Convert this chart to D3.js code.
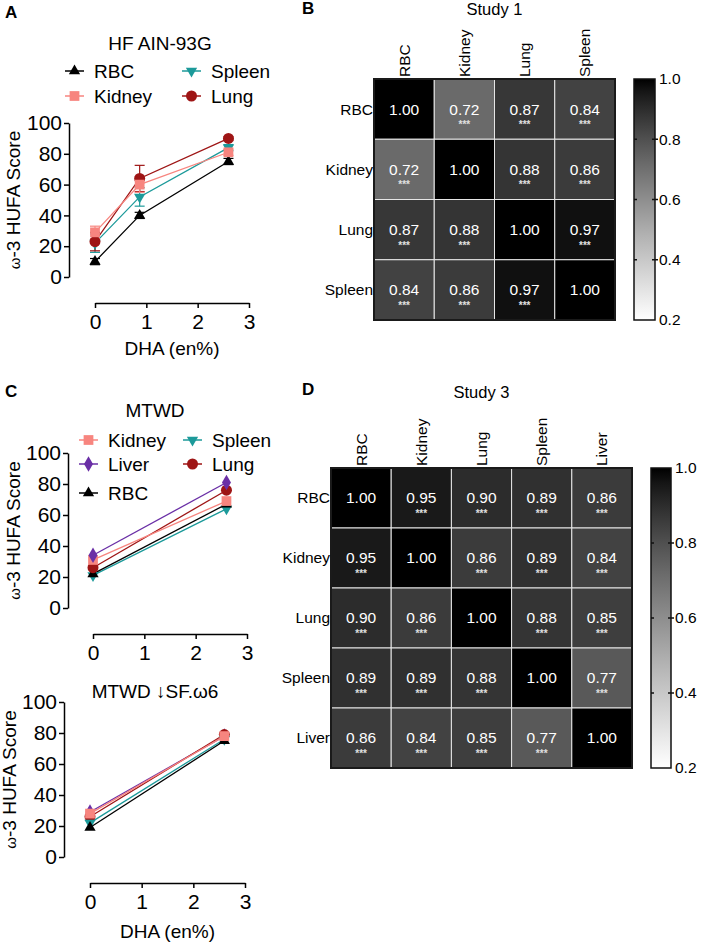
<!DOCTYPE html>
<html><head><meta charset="utf-8">
<script src="https://cdn.jsdelivr.net/npm/d3@7"></script>
<style>
body{margin:0;background:#fff;}
svg{display:block;font-family:"Liberation Sans",Arial,Helvetica,sans-serif;}
</style></head>
<body><svg id="c" width="701" height="944"></svg>
<script>
// ---------- DATA ----------
const xTicks = [0, 1, 2, 3];
const yTicks = [0, 20, 40, 60, 80, 100];

// Panel A (HF AIN-93G)
const doseA = [0, 0.87, 2.6];
const aRBC = [10, 40, 75];
const aKidney = [29, 60, 81];
const aSpleen = [22, 52, 84];
const aLung = [23, 64, 90];
const aRBCerr = [2, 2, 2];
const aKidneyErr = [4, 5, 2];
const aSpleenErr = [6, 6, 2];
const aLungErr = [6, 8.5, 1];

// Panel C top (MTWD)
const doseC = [0, 2.6];
const cKidney = [31, 69];
const cLiver = [34, 81];
const cRBC = [22, 67];
const cSpleen = [21, 64];
const cLung = [26, 76];

// Panel C bottom (MTWD lowSF.w6)
const c2Kidney = [28, 78];
const c2Liver = [29, 78];
const c2Lung = [26, 79];
const c2Spleen = [22, 76];
const c2RBC = [19, 75];

// Heatmaps
const study1Labels = ["RBC", "Kidney", "Lung", "Spleen"];
const study1 = [
  [1.00, 0.72, 0.87, 0.84],
  [0.72, 1.00, 0.88, 0.86],
  [0.87, 0.88, 1.00, 0.97],
  [0.84, 0.86, 0.97, 1.00]
];
const study3Labels = ["RBC", "Kidney", "Lung", "Spleen", "Liver"];
const study3 = [
  [1.00, 0.95, 0.90, 0.89, 0.86],
  [0.95, 1.00, 0.86, 0.89, 0.84],
  [0.90, 0.86, 1.00, 0.88, 0.85],
  [0.89, 0.89, 0.88, 1.00, 0.77],
  [0.86, 0.84, 0.85, 0.77, 1.00]
];
const colorbarTicks = [0.2, 0.4, 0.6, 0.8, 1.0];

// ---------- STYLES ----------
const col = {RBC:"#000000", Kidney:"#f7857f", Spleen:"#1c9a9a", Lung:"#9e1515", Liver:"#6a2fa6"};
const sym = {RBC:d3.symbolTriangle, Kidney:d3.symbolSquare, Spleen:d3.symbolTriangle, Lung:d3.symbolCircle, Liver:d3.symbolDiamond};
const symSize = {RBC:55, Kidney:95, Spleen:55, Lung:95, Liver:70};
const symRot = {RBC:0, Kidney:0, Spleen:180, Lung:0, Liver:0};

const svg = d3.select("#c");

function marker(g, name, x, y){
  g.append("path").attr("d", d3.symbol().type(sym[name]).size(symSize[name])())
   .attr("transform", `translate(${x},${y}) rotate(${symRot[name]})`)
   .attr("fill", col[name]);
}

function panelLetter(t, x, y){
  svg.append("text").attr("x", x).attr("y", y).attr("font-size", 17).attr("font-weight", "bold").text(t);
}

function yLabel(cx, cy){
  const t = svg.append("text").attr("transform", `translate(${cx},${cy}) rotate(-90)`)
    .attr("text-anchor", "middle").attr("font-size", 19);
  t.append("tspan").attr("font-size", 15).text("ω");
  t.append("tspan").text("-3 HUFA Score");
}

function linePanel(opt){
  const x = d3.scaleLinear().domain([0, 3]).range(opt.xr);
  const y = d3.scaleLinear().domain([0, 100]).range(opt.yr);
  const yAx = svg.append("g").attr("transform", `translate(${opt.yAxisX},0)`)
    .call(d3.axisLeft(y).tickValues(yTicks).tickFormat(d3.format("d")).tickSize(5).tickPadding(2).tickSizeOuter(0));
  const xAx = svg.append("g").attr("transform", `translate(0,${opt.xAxisY})`)
    .call(d3.axisBottom(x).tickValues(xTicks).tickFormat(d3.format("d")).tickSize(5).tickPadding(6).tickSizeOuter(0));
  [yAx, xAx].forEach(a => {
    a.selectAll("path,line").attr("stroke", "#000").attr("stroke-width", 1.5);
    a.selectAll("text").attr("font-size", 21).attr("font-family", "Liberation Sans, Arial, sans-serif").attr("fill", "#000");
  });
  const g = svg.append("g");
  opt.series.forEach(s => {
    const pts = s.vals.map((v, i) => [x(opt.dose[i]), y(v)]);
    g.append("path").attr("d", d3.line()(pts)).attr("fill", "none")
      .attr("stroke", col[s.name]).attr("stroke-width", 1.3);
    if (s.err) {
      s.vals.forEach((v, i) => {
        const xx = x(opt.dose[i]);
        const y1 = y(v + s.err[i]), y0 = y(v - s.err[i]);
        g.append("line").attr("x1", xx).attr("x2", xx).attr("y1", y1).attr("y2", y0).attr("stroke", col[s.name]).attr("stroke-width", 1.2);
        [y1, y0].forEach(yy => g.append("line").attr("x1", xx - 5).attr("x2", xx + 5).attr("y1", yy).attr("y2", yy).attr("stroke", col[s.name]).attr("stroke-width", 1.2));
      });
    }
  });
  opt.series.forEach(s => {
    s.vals.forEach((v, i) => marker(g, s.name, x(opt.dose[i]), y(v)));
  });
  if (opt.xTitleY) {
    svg.append("text").attr("x", (opt.xr[0] + opt.xr[1]) / 2).attr("y", opt.xTitleY)
      .attr("text-anchor", "middle").attr("font-size", 19).text("DHA (en%)");
  }
  yLabel(opt.yLabelX, (opt.yr[0] + opt.yr[1]) / 2);
  svg.append("text").attr("x", opt.titleX).attr("y", opt.titleY).attr("text-anchor", "middle")
    .attr("font-size", 19).text(opt.title);
  (opt.legend || []).forEach(L => {
    const lg = svg.append("g");
    lg.append("line").attr("x1", L.x).attr("x2", L.x + 19).attr("y1", L.y).attr("y2", L.y)
      .attr("stroke", col[L.name]).attr("stroke-width", 1.5);
    marker(lg, L.name, L.x + 9.5, L.y);
    lg.append("text").attr("x", L.x + 29).attr("y", L.y + 7).attr("font-size", 19).text(L.name);
  });
}

// Panel A
panelLetter("A", 5, 18);
linePanel({
  xr: [95, 249], yr: [277, 123], yAxisX: 69, xAxisY: 303, xTitleY: 355, yLabelX: 20,
  dose: doseA, title: "HF AIN-93G", titleX: 160, titleY: 50,
  series: [
    {name: "RBC", vals: aRBC, err: aRBCerr},
    {name: "Spleen", vals: aSpleen, err: aSpleenErr},
    {name: "Lung", vals: aLung, err: aLungErr},
    {name: "Kidney", vals: aKidney, err: aKidneyErr}
  ],
  legend: [
    {name: "RBC", x: 65, y: 71}, {name: "Kidney", x: 65, y: 96},
    {name: "Spleen", x: 182, y: 71}, {name: "Lung", x: 182, y: 96}
  ]
});

// Panel C top
panelLetter("C", 5, 397);
linePanel({
  xr: [93, 247], yr: [608, 453], yAxisX: 68, xAxisY: 634, xTitleY: null, yLabelX: 20,
  dose: doseC, title: "MTWD", titleX: 155, titleY: 417,
  series: [
    {name: "Spleen", vals: cSpleen}, {name: "RBC", vals: cRBC},
    {name: "Lung", vals: cLung}, {name: "Kidney", vals: cKidney}, {name: "Liver", vals: cLiver}
  ],
  legend: [
    {name: "Kidney", x: 79, y: 440}, {name: "Liver", x: 79, y: 464}, {name: "RBC", x: 79, y: 493},
    {name: "Spleen", x: 183, y: 440}, {name: "Lung", x: 183, y: 464}
  ]
});

// Panel C bottom
linePanel({
  xr: [90, 245], yr: [857, 702], yAxisX: 64, xAxisY: 883, xTitleY: 938, yLabelX: 16,
  dose: doseC, title: "MTWD ↓SF.ω6", titleX: 155, titleY: 698,
  series: [
    {name: "Liver", vals: c2Liver}, {name: "Lung", vals: c2Lung},
    {name: "Spleen", vals: c2Spleen}, {name: "RBC", vals: c2RBC}, {name: "Kidney", vals: c2Kidney}
  ]
});

// ---------- HEATMAPS ----------
const shadeT = d3.scaleLinear().domain([1.0, 0.2]).range([0, 1]).clamp(true);
function shade(v){ const g = Math.round(255 * Math.pow(shadeT(v), 0.84)); return `rgb(${g},${g},${g})`; }

let gradId = 0;
function heatmap(opt){
  const bx = d3.scaleBand().domain(opt.labels).range([opt.x0, opt.x1]);
  const by = d3.scaleBand().domain(opt.labels).range([opt.y0, opt.y1]);
  const g = svg.append("g");
  opt.data.forEach((row, i) => row.forEach((v, j) => {
    const cx = bx(opt.labels[j]), cy = by(opt.labels[i]);
    g.append("rect").attr("x", cx).attr("y", cy).attr("width", bx.bandwidth()).attr("height", by.bandwidth())
      .attr("fill", shade(v)).attr("stroke", "#e6e6e6").attr("stroke-width", 1);
    const mx = cx + bx.bandwidth() / 2, my = cy + by.bandwidth() / 2;
    g.append("text").attr("x", mx).attr("y", my).attr("dy", "0.35em").attr("text-anchor", "middle")
      .attr("fill", "#fff").attr("font-size", 15.5).text(v.toFixed(2));
    if (i !== j) {
      g.append("text").attr("x", mx).attr("y", my + 19).attr("text-anchor", "middle")
        .attr("fill", "#e0e0e0").attr("font-size", 10).attr("font-weight", "bold").text("***");
    }
  }));
  g.append("rect").attr("x", opt.x0).attr("y", opt.y0).attr("width", opt.x1 - opt.x0).attr("height", opt.y1 - opt.y0)
    .attr("fill", "none").attr("stroke", "#1a1a1a").attr("stroke-width", 2);
  opt.labels.forEach(l => {
    g.append("text").attr("x", opt.x0 - 1).attr("y", by(l) + by.bandwidth() / 2).attr("dy", "0.35em")
      .attr("text-anchor", "end").attr("font-size", 15.5).text(l);
    g.append("text").attr("transform", `translate(${bx(l) + bx.bandwidth() / 2},${opt.y0 - 2}) rotate(-90)`)
      .attr("dy", "0.35em").attr("font-size", 15.5).text(l);
  });
  svg.append("text").attr("x", (opt.x0 + opt.x1) / 2).attr("y", opt.titleY).attr("text-anchor", "middle")
    .attr("font-size", 16.5).text(opt.title);
  // colorbar
  const id = "grad" + (gradId++);
  const lg = svg.append("defs").append("linearGradient").attr("id", id)
    .attr("x1", 0).attr("y1", 0).attr("x2", 0).attr("y2", 1);
  d3.range(0, 21).forEach(k => {
    const v = 1.0 - k * 0.04;
    lg.append("stop").attr("offset", (k / 20)).attr("stop-color", shade(v));
  });
  const cy = d3.scaleLinear().domain([0.2, 1.0]).range([opt.y1, opt.y0]);
  svg.append("rect").attr("x", opt.cbx).attr("y", opt.y0).attr("width", opt.cbw).attr("height", opt.y1 - opt.y0)
    .attr("fill", `url(#${id})`).attr("stroke", "#111").attr("stroke-width", 1.5);
  colorbarTicks.forEach(t => {
    const yy = cy(t);
    if (t > 0.2 && t < 1.0) {
      svg.append("line").attr("x1", opt.cbx).attr("x2", opt.cbx + 3).attr("y1", yy).attr("y2", yy).attr("stroke", "#111").attr("stroke-width", 1.5);
      svg.append("line").attr("x1", opt.cbx + opt.cbw - 3).attr("x2", opt.cbx + opt.cbw + 3).attr("y1", yy).attr("y2", yy).attr("stroke", "#111").attr("stroke-width", 1.5);
    }
    svg.append("text").attr("x", opt.cbx + opt.cbw + 4).attr("y", yy).attr("dy", "0.35em")
      .attr("font-size", 15.5).text(t.toFixed(1));
  });
}

panelLetter("B", 302, 14);
heatmap({labels: study1Labels, data: study1, x0: 374, x1: 615, y0: 79, y1: 320,
  title: "Study 1", titleY: 15, cbx: 634, cbw: 21});
panelLetter("D", 302, 395);
heatmap({labels: study3Labels, data: study3, x0: 331, x1: 632, y0: 468, y1: 768,
  title: "Study 3", titleY: 398, cbx: 651, cbw: 20});
</script></body></html>
